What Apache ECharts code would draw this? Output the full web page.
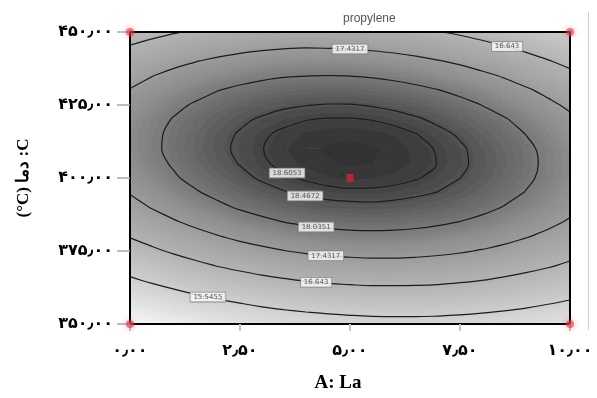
<!DOCTYPE html>
<html><head><meta charset="utf-8">
<script src="https://cdn.jsdelivr.net/npm/echarts@6/dist/echarts.min.js"></script>
<style>html,body{margin:0;padding:0;background:#fff}#c{width:597px;height:398px}</style>
</head><body><div id="c"></div>
<script>
// ---- data ----
const titleText = 'propylene';
const xName = 'A: La';
const yName = '(°C) دما :C';
const xTickLabels = ['۰٫۰۰','۲٫۵۰','۵٫۰۰','۷٫۵۰','۱۰٫۰۰'];
const yTickLabels = ['۳۵۰٫۰۰','۳۷۵٫۰۰','۴۰۰٫۰۰','۴۲۵٫۰۰','۴۵۰٫۰۰'];
const xValues = [0,0.5,1,1.5,2,2.5,3,3.5,4,4.5,5,5.5,6,6.5,7,7.5,8,8.5,9,9.5,10];
const yValues = [350,355,360,365,370,375,380,385,390,395,400,405,410,415,420,425,430,435,440,445,450];
// response estimated over the grid, rows follow yValues (bottom to top)
const zRows = [
[13.72,13.95,14.17,14.37,14.55,14.71,14.85,14.97,15.06,15.14,15.20,15.24,15.26,15.26,15.24,15.19,15.13,15.05,14.95,14.83,14.69],
[14.34,14.57,14.79,14.98,15.16,15.31,15.45,15.56,15.65,15.73,15.78,15.82,15.83,15.83,15.80,15.76,15.69,15.60,15.50,15.37,15.23],
[14.91,15.14,15.35,15.54,15.71,15.86,15.99,16.10,16.19,16.26,16.31,16.34,16.35,16.34,16.32,16.27,16.20,16.11,16.00,15.87,15.72],
[15.43,15.66,15.86,16.05,16.22,16.36,16.49,16.59,16.68,16.75,16.79,16.82,16.82,16.81,16.78,16.72,16.65,16.55,16.44,16.31,16.15],
[15.90,16.12,16.32,16.50,16.67,16.81,16.93,17.03,17.11,17.18,17.22,17.24,17.24,17.22,17.19,17.13,17.05,16.95,16.83,16.70,16.54],
[16.31,16.53,16.73,16.91,17.07,17.20,17.32,17.42,17.50,17.56,17.59,17.61,17.61,17.59,17.54,17.48,17.40,17.30,17.18,17.03,16.87],
[16.68,16.89,17.09,17.26,17.41,17.55,17.66,17.75,17.83,17.88,17.92,17.93,17.92,17.90,17.85,17.78,17.70,17.59,17.46,17.32,17.15],
[16.99,17.20,17.39,17.56,17.71,17.84,17.95,18.04,18.11,18.16,18.19,18.20,18.19,18.15,18.10,18.03,17.94,17.83,17.70,17.55,17.38],
[17.25,17.46,17.64,17.81,17.95,18.08,18.18,18.27,18.33,18.38,18.40,18.41,18.39,18.36,18.31,18.23,18.14,18.02,17.89,17.73,17.56],
[17.46,17.66,17.84,18.00,18.14,18.26,18.37,18.45,18.51,18.55,18.57,18.57,18.55,18.51,18.46,18.38,18.28,18.16,18.02,17.86,17.68],
[17.61,17.81,17.99,18.15,18.28,18.40,18.50,18.57,18.63,18.67,18.69,18.68,18.66,18.62,18.55,18.47,18.37,18.24,18.10,17.94,17.76],
[17.72,17.91,18.08,18.24,18.37,18.48,18.58,18.65,18.70,18.73,18.75,18.74,18.71,18.67,18.60,18.51,18.40,18.28,18.13,17.96,17.78],
[17.77,17.96,18.13,18.28,18.41,18.51,18.60,18.67,18.72,18.75,18.76,18.75,18.72,18.66,18.59,18.50,18.39,18.26,18.11,17.94,17.75],
[17.77,17.95,18.12,18.26,18.39,18.49,18.58,18.64,18.69,18.71,18.72,18.70,18.67,18.61,18.53,18.44,18.32,18.19,18.03,17.86,17.66],
[17.72,17.90,18.06,18.20,18.32,18.42,18.50,18.56,18.60,18.62,18.62,18.60,18.56,18.50,18.42,18.32,18.21,18.07,17.91,17.73,17.53],
[17.61,17.79,17.95,18.08,18.20,18.30,18.37,18.43,18.46,18.48,18.48,18.45,18.41,18.35,18.26,18.16,18.03,17.89,17.73,17.54,17.34],
[17.46,17.63,17.78,17.91,18.03,18.12,18.19,18.24,18.27,18.29,18.28,18.25,18.20,18.14,18.05,17.94,17.81,17.66,17.50,17.31,17.10],
[17.25,17.42,17.57,17.69,17.80,17.89,17.96,18.01,18.03,18.04,18.03,18.00,17.95,17.87,17.78,17.67,17.54,17.39,17.21,17.02,16.81],
[16.99,17.15,17.30,17.42,17.52,17.61,17.67,17.72,17.74,17.74,17.73,17.69,17.64,17.56,17.46,17.35,17.21,17.05,16.88,16.68,16.47],
[16.68,16.84,16.98,17.10,17.20,17.28,17.34,17.38,17.40,17.39,17.37,17.33,17.27,17.19,17.09,16.97,16.83,16.67,16.49,16.29,16.07],
[16.31,16.47,16.60,16.72,16.82,16.89,16.95,16.98,17.00,16.99,16.97,16.92,16.86,16.78,16.67,16.55,16.40,16.24,16.05,15.85,15.62]
];
const contourLevels = [18.6053, 18.4672, 18.0351, 17.4317, 16.643, 15.5455];
const designPoints = [[0,350],[0,450],[10,350],[10,450]];
const centerPoint = [[5,400]];
const flagPoint = [[4.8,401]];

// label placement (which branch of each contour carries a label)
const labelSpots = [
  {level:0, x:3.57, side:'bottom'},
  {level:1, x:3.98, side:'bottom'},
  {level:2, x:4.23, side:'bottom'},
  {level:3, x:4.45, side:'bottom'},
  {level:3, x:5.0,  side:'top'},
  {level:4, x:4.23, side:'bottom'},
  {level:4, x:8.57, side:'top'},
  {level:5, x:1.77, side:'bottom'}
];
// grey ramp (light for low response, dark for high)
const greyStops = [250,237,225,214,202,190,177,163,142,104,50];

// ---- build ----
const xMin = xValues[0], xMax = xValues[xValues.length-1];
const yMin = yValues[0], yMax = yValues[yValues.length-1];
let zLo = Infinity, zHi = -Infinity;
zRows.forEach(row=>row.forEach(z=>{zLo=Math.min(zLo,z); zHi=Math.max(zHi,z);}));
const cells = [];
for(let j=0;j<yValues.length-1;j++) for(let i=0;i<xValues.length-1;i++) cells.push([xValues[i], yValues[j], i, j]);

function greyAt(z){
  let t=(z-zLo)/(zHi-zLo); t=Math.max(0,Math.min(1,t));
  const p=t*(greyStops.length-1), k=Math.min(greyStops.length-2, Math.floor(p)), f=p-k;
  const g=Math.round(greyStops[k]+(greyStops[k+1]-greyStops[k])*f);
  return 'rgb('+g+','+g+','+g+')';
}
const bandStart = Math.floor(zLo*10)/10, bandStep = 0.06;
const bandColor = k => greyAt(bandStart + (k+0.5)*bandStep);

function edgePoint(i1,j1,i2,j2,L){
  if (i2<i1 || (i2===i1 && j2<j1)) { [i1,i2]=[i2,i1]; [j1,j2]=[j2,j1]; }
  const z1=zRows[j1][i1], z2=zRows[j2][i2];
  const t=(L-z1)/(z2-z1);
  return [xValues[i1]+t*(xValues[i2]-xValues[i1]), yValues[j1]+t*(yValues[j2]-yValues[j1])];
}
function segmentsFor(L){
  const segs=[];
  for(let j=0;j<yValues.length-1;j++) for(let i=0;i<xValues.length-1;i++){
    const c=[[i,j],[i+1,j],[i+1,j+1],[i,j+1]];
    const pts=[];
    for(let k=0;k<4;k++){
      const a=c[k], b=c[(k+1)%4];
      const za=zRows[a[1]][a[0]], zb=zRows[b[1]][b[0]];
      if((za<L)!==(zb<L)) pts.push(edgePoint(a[0],a[1],b[0],b[1],L));
    }
    if(pts.length===2) segs.push([pts[0],pts[1]]);
    else if(pts.length===4){ segs.push([pts[0],pts[1]]); segs.push([pts[2],pts[3]]); }
  }
  return segs;
}
function chain(segs){
  const key=p=>p[0].toFixed(6)+','+p[1].toFixed(6);
  const adj=new Map();
  segs.forEach((s,idx)=>{for(const e of [0,1]){const k=key(s[e]); if(!adj.has(k)) adj.set(k,[]); adj.get(k).push(idx);}});
  const used=new Array(segs.length).fill(false);
  const lines=[];
  for(let i=0;i<segs.length;i++){
    if(used[i]) continue;
    used[i]=true;
    const line=[segs[i][0],segs[i][1]];
    for(const dir of ['end','start']){
      while(true){
        const p = dir==='end'?line[line.length-1]:line[0];
        const cands=(adj.get(key(p))||[]).filter(j=>!used[j]);
        if(!cands.length) break;
        const j=cands[0]; used[j]=true;
        const s=segs[j];
        const q = key(s[0])===key(p)?s[1]:s[0];
        if(dir==='end') line.push(q); else line.unshift(q);
      }
    }
    lines.push(line);
  }
  return lines;
}
const levelSegs = contourLevels.map(segmentsFor);
const contourSeries = [];
levelSegs.forEach(segs=>{
  chain(segs).forEach(line=>{
    contourSeries.push({type:'line', data:line, symbol:'none', smooth:0.4, silent:true, animation:false, z:4,
      lineStyle:{color:'#1c1c1c', width:1.2}});
  });
});
const labelData = labelSpots.map(s=>{
  const ys=[];
  levelSegs[s.level].forEach(([p,q])=>{
    if((p[0]-s.x)*(q[0]-s.x)<=0 && p[0]!==q[0]){
      ys.push(p[1]+(s.x-p[0])/(q[0]-p[0])*(q[1]-p[1]));
    }
  });
  const y = s.side==='bottom'?Math.min(...ys):Math.max(...ys);
  return {value:[s.x,y], name:String(contourLevels[s.level])};
});

const chart = echarts.init(document.getElementById('c'), null, {renderer:'canvas'});
const tickFont = {fontFamily:'DejaVu Sans', fontWeight:'bold', fontSize:16, color:'#000'};
chart.setOption({
  animation:false,
  backgroundColor:'#fff',
  title:{text:titleText, left:338, top:8, textStyle:{fontFamily:'Liberation Sans', fontWeight:'normal', fontSize:12, color:'#555'}},
  grid:{left:130, top:32, width:440, height:296, containLabel:false},
  xAxis:[
    {type:'value', min:xMin, max:xMax, interval:2.5, position:'bottom', z:10,
     axisLine:{show:true, onZero:false, lineStyle:{color:'#000', width:2}},
     axisTick:{show:true, length:7, lineStyle:{color:'#c4c4c4', width:2}},
     axisLabel:Object.assign({margin:19, formatter:v=>xTickLabels[Math.round(v/2.5)]}, tickFont),
     splitLine:{show:false},
     name:xName, nameLocation:'middle', nameGap:50,
     nameTextStyle:{fontFamily:'Liberation Serif', fontWeight:'bold', fontSize:19, color:'#000', padding:[0,24,0,0]}},
    {type:'value', min:xMin, max:xMax, position:'top', z:10,
     axisLine:{show:true, onZero:false, lineStyle:{color:'#000', width:2}},
     axisTick:{show:false}, axisLabel:{show:false}, splitLine:{show:false}}
  ],
  yAxis:[
    {type:'value', min:yMin, max:yMax, interval:25, position:'left', z:10,
     axisLine:{show:true, onZero:false, lineStyle:{color:'#000', width:2}},
     axisTick:{show:true, length:13, lineStyle:{color:'#a8a8a8', width:1.5}},
     axisLabel:Object.assign({margin:17, formatter:v=>yTickLabels[Math.round((v-350)/25)]}, tickFont),
     splitLine:{show:false},
     name:yName, nameLocation:'middle', nameRotate:90, nameGap:98,
     nameTextStyle:{fontFamily:'Liberation Serif', fontWeight:'bold', fontSize:17, color:'#000'}},
    {type:'value', min:yMin, max:yMax, position:'right', z:10,
     axisLine:{show:true, onZero:false, lineStyle:{color:'#000', width:2}},
     axisTick:{show:false}, axisLabel:{show:false}, splitLine:{show:false}}
  ],
  graphic:[{type:'line', shape:{x1:588.5,y1:12,x2:588.5,y2:330}, style:{stroke:'#cfcfcf', lineWidth:1}, z:1}],
  series:[
    {type:'custom', data:cells, encode:{x:0,y:1}, silent:true, animation:false, z:1,
     renderItem:(params, api)=>{
       const i=api.value(2), j=api.value(3);
       const c=[[i,j],[i+1,j],[i+1,j+1],[i,j+1]];
       const zs=c.map(([a,b])=>zRows[b][a]);
       const zmin=Math.min(...zs), zmax=Math.max(...zs);
       const kmin=Math.floor((zmin-bandStart)/bandStep);
       const pt=(a,b)=>api.coord([xValues[a], yValues[b]]);
       const p0=pt(i,j+1), p1=pt(i+1,j);
       const children=[{type:'rect', shape:{x:p0[0],y:p0[1],width:p1[0]-p0[0],height:p1[1]-p0[1]},
         style:{fill:bandColor(kmin), stroke:bandColor(kmin), lineWidth:0.6}}];
       for(let k=kmin+1; bandStart+k*bandStep<=zmax; k++){
         const L=bandStart+k*bandStep;
         const poly=[];
         for(let m=0;m<4;m++){
           const a=c[m], b=c[(m+1)%4], za=zs[m], zb=zs[(m+1)%4];
           const pa=pt(a[0],a[1]);
           if(za>=L) poly.push(pa);
           if((za>=L)!==(zb>=L)){
             const pb=pt(b[0],b[1]); const t=(L-za)/(zb-za);
             poly.push([pa[0]+t*(pb[0]-pa[0]), pa[1]+t*(pb[1]-pa[1])]);
           }
         }
         if(poly.length>=3) children.push({type:'polygon', shape:{points:poly},
           style:{fill:bandColor(k), stroke:bandColor(k), lineWidth:0.6}});
       }
       return {type:'group', children};
     }},
    ...contourSeries,
    {type:'scatter', data:labelData, symbolSize:1, itemStyle:{color:'rgba(0,0,0,0)'}, z:6, silent:true, animation:false,
     label:{show:true, position:'inside', formatter:p=>p.name, fontSize:7, fontFamily:'DejaVu Sans', color:'#333',
       backgroundColor:'#fdfdfd', borderColor:'#7a7a7a', borderWidth:0.8, padding:[1,3]}},
    {type:'scatter', data:designPoints, symbol:'circle', symbolSize:8, z:12, silent:true, animation:false,
     itemStyle:{color:'rgba(225,50,60,0.75)', shadowBlur:6, shadowColor:'rgba(240,80,90,0.8)'}},
    {type:'scatter', data:flagPoint, symbol:'circle', symbolSize:5, z:7, silent:true, animation:false,
     itemStyle:{color:'#1f3b22'}},
    {type:'scatter', data:centerPoint, symbol:'rect', symbolSize:[7,8], z:8, silent:true, animation:false,
     itemStyle:{color:'#d8262c'}}
  ]
});
</script>
</body></html>
